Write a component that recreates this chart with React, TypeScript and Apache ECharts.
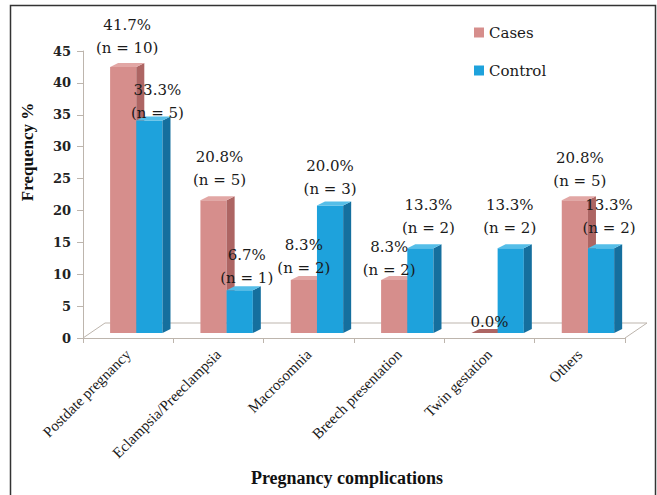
import React, { useEffect, useRef } from "react";
import * as echarts from "echarts";

// ---- data ----
const categories = [
  "Postdate pregnancy",
  "Eclampsia/Preeclampsia",
  "Macrosomnia",
  "Breech presentation",
  "Twin gestation",
  "Others",
];
const casesPct = [41.7, 20.8, 8.3, 8.3, 0.0, 20.8];
const casesN = [10, 5, 2, 2, 0, 5];
const controlPct = [33.3, 6.7, 20.0, 13.3, 13.3, 13.3];
const controlN = [5, 1, 3, 2, 2, 2];
const yMin = 0;
const yMax = 45;
const yStep = 5;

// label placement nudges (dx from bar centre, dy of last line centre from bar top)
const casesLabelShift = [[4, -19], [6, -20], [0, -12], [-5, -10], [5, -11], [5, -19]];
const controlLabelShift = [[8, -8], [7, -12], [0, -16], [8, -20], [-1, -20], [8, -20]];

const W = 657;
const H = 495;
const GRID = { left: 83, right: 32, top: 51, bottom: 157 };
const DEPTH = { dx: 22, dy: -15 };

const PINK = { front: "#d68e8c", side: "#ad6563", top: "#e2a7a5" };
const BLUE = { front: "#1ea2dc", side: "#156f9e", top: "#55bee8" };

function makeRender(s: number, colors: any, nArr: number[], shifts: number[][]) {
  return (params: any, api: any) => {
    const i = api.value(0);
    const v = api.value(1);
    const base = api.coord([i, 0]);
    const top = api.coord([i, v]);
    const band = api.size([1, 0])[0];
    const w = band * 0.29;
    const x0 = base[0] - band * 0.2 + s * w;
    const lift = 5;
    const dx = 8;
    const dy = 4;
    const yb = base[1] - lift;
    const yt = top[1] - lift;
    const n = nArr[i];
    const text = v.toFixed(1) + "%" + (n > 0 ? "\n(n = " + n + ")" : "");
    const sh = shifts[i];
    return {
      type: "group",
      children: [
        {
          type: "rect",
          shape: { x: x0, y: yt, width: w, height: Math.max(0, yb - yt) },
          style: { fill: colors.front },
        },
        {
          type: "polygon",
          shape: {
            points: [
              [x0 + w, yt],
              [x0 + w + dx, yt - dy],
              [x0 + w + dx, yb - dy],
              [x0 + w, yb],
            ],
          },
          style: { fill: colors.side },
        },
        {
          type: "polygon",
          shape: {
            points: [
              [x0, yt],
              [x0 + dx, yt - dy],
              [x0 + w + dx, yt - dy],
              [x0 + w, yt],
            ],
          },
          style: { fill: v === 0 ? colors.side : colors.top },
        },
        {
          type: "text",
          z2: 100,
          style: {
            text,
            x: x0 + w / 2 + sh[0],
            y: yt + sh[1] + 11.5,
            align: "center",
            verticalAlign: "bottom",
            font: '15px "DejaVu Serif"',
            fill: "#1a1a1a",
            lineHeight: 23,
          },
        },
      ],
    };
  };
}

export default function App() {
  const ref = useRef<HTMLDivElement>(null);
  useEffect(() => {
    if (!ref.current) return;
    const chart = echarts.init(ref.current, undefined, { renderer: "svg" });
    const fl = [GRID.left, H - GRID.bottom];
    const fr = [W - GRID.right, H - GRID.bottom];
    const bl = [fl[0] + DEPTH.dx, fl[1] + DEPTH.dy];
    const br = [fr[0] + DEPTH.dx, fr[1] + DEPTH.dy];
    const floorStyle = { stroke: "#bdb5ad", lineWidth: 1 };
    chart.setOption({
      animation: false,
      backgroundColor: "#ffffff",
      grid: { ...GRID, containLabel: false },
      legend: {
        orient: "vertical",
        left: 469,
        top: 20,
        itemWidth: 10,
        itemHeight: 10,
        itemGap: 23,
        textStyle: { fontFamily: "DejaVu Serif", fontSize: 15, color: "#1a1a1a" },
        data: [
          { name: "Cases", icon: "rect" },
          { name: "Control", icon: "rect" },
        ],
      },
      xAxis: {
        type: "category",
        data: categories,
        boundaryGap: true,
        axisLine: { show: true, lineStyle: { color: "#bdb5ad", width: 1 } },
        axisTick: { show: true, length: 5, lineStyle: { color: "#bdb5ad" } },
        axisLabel: {
          rotate: 45,
          interval: 0,
          margin: 14,
          fontFamily: "Liberation Serif",
          fontSize: 15,
          color: "#1a1a1a",
        },
        splitLine: { show: false },
      },
      yAxis: {
        type: "value",
        min: yMin,
        max: yMax,
        interval: yStep,
        axisLine: { show: true, lineStyle: { color: "#bdb5ad", width: 1 } },
        axisTick: { show: true, length: 6, lineStyle: { color: "#bdb5ad" } },
        axisLabel: {
          margin: 12,
          fontFamily: "DejaVu Serif",
          fontWeight: "bold",
          fontSize: 13,
          color: "#222",
        },
        splitLine: { show: false },
      },
      series: [
        {
          name: "Cases",
          type: "custom",
          itemStyle: { color: PINK.front },
          renderItem: makeRender(0, PINK, casesN, casesLabelShift),
          encode: { x: 0, y: 1 },
          data: casesPct.map((v, i) => [i, v]),
        },
        {
          name: "Control",
          type: "custom",
          itemStyle: { color: BLUE.front },
          renderItem: makeRender(1, BLUE, controlN, controlLabelShift),
          encode: { x: 0, y: 1 },
          data: controlPct.map((v, i) => [i, v]),
        },
      ],
      graphic: [
        {
          type: "rect",
          shape: { x: 10.5, y: 5.5, width: 645, height: 520 },
          style: { fill: "none", stroke: "#333", lineWidth: 1.5 },
          z: -1,
        },
        { type: "line", shape: { x1: bl[0], y1: bl[1], x2: br[0], y2: br[1] }, style: floorStyle, z: 1 },
        { type: "line", shape: { x1: fl[0], y1: fl[1], x2: bl[0], y2: bl[1] }, style: floorStyle, z: 1 },
        { type: "line", shape: { x1: fr[0], y1: fr[1], x2: br[0], y2: br[1] }, style: floorStyle, z: 1 },
        {
          type: "text",
          x: 27,
          y: 152,
          rotation: Math.PI / 2,
          style: {
            text: "Frequency %",
            font: 'bold 17px "Liberation Serif"',
            fill: "#111",
            align: "center",
            verticalAlign: "middle",
          },
        },
        {
          type: "text",
          x: 347,
          y: 478,
          style: {
            text: "Pregnancy complications",
            font: 'bold 18px "Liberation Serif"',
            fill: "#111",
            align: "center",
            verticalAlign: "middle",
          },
        },
      ],
    });
    return () => chart.dispose();
  }, []);
  return (
    <div
      ref={ref}
      style={{ position: "fixed", left: 0, top: 0, width: W, height: H, background: "#fff" }}
    />
  );
}
